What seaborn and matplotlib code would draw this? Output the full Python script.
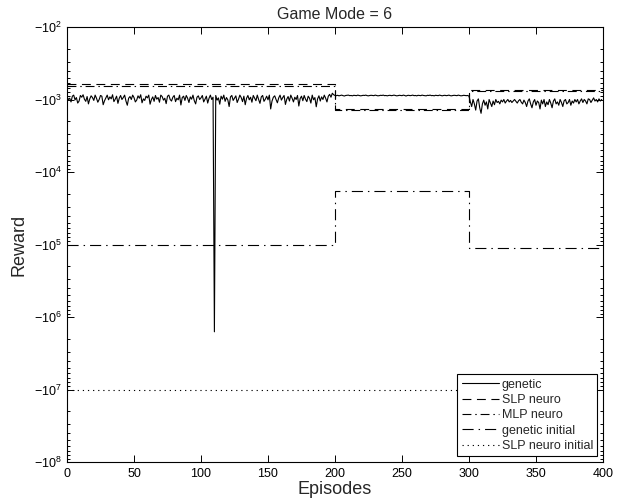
import numpy as np
import pandas as pd
import seaborn as sns
import matplotlib
matplotlib.use("Agg")
import matplotlib.pyplot as plt
from matplotlib.ticker import FixedLocator, FixedFormatter, LogLocator, NullFormatter

# ---- data -------------------------------------------------------------
episodes = list(range(400))

genetic = [
    # episodes 0-199
    -920, -1000, -960, -1080, -900, -870, -1010, -940, -1120, -1050, -880, -930, -860, -990, -1060, -910, -1150, -980, -890, -940,
    -1030, -870, -960, -1090, -1000, -880, -900, -1180, -1040, -950, -870, -1010, -920, -980, -860, -1070, -990, -900, -1130, -960,
    -880, -1000, -940, -870, -1050, -1200, -960, -910, -1000, -870, -940, -1080, -1020, -890, -960, -860, -1110, -980, -1030, -900,
    -950, -870, -1160, -1000, -920, -1060, -880, -990, -940, -1090, -870, -910, -1020, -960, -1140, -900, -870, -1000, -1050, -930,
    -880, -1070, -960, -1010, -870, -1190, -940, -900, -1030, -880, -960, -1100, -920, -990, -870, -1040, -1150, -930, -890, -1000,
    -950, -880, -1080, -990, -900, -1120, -960, -870, -1000, -930, -1600000, -880, -1020, -950, -1160, -900, -990, -870, -1060, -940,
    -1010, -1250, -920, -880, -1030, -960, -890, -1100, -990, -870, -940, -1070, -900, -1180, -960, -880, -1010, -930, -1090, -880,
    -960, -1040, -870, -1000, -1130, -920, -880, -1060, -990, -900, -1010, -870, -1350, -1050, -930, -890, -1000, -1110, -950, -870,
    -1020, -940, -880, -1170, -990, -910, -1050, -870, -960, -1080, -930, -1000, -880, -1230, -970, -900, -1040, -880, -990, -1070,
    -900, -960, -1120, -870, -1010, -940, -1260, -980, -890, -1050, -920, -1000, -870, -960, -1080, -900, -850, -930, -820, -860,
    # episodes 200-299
    -880, -885, -875, -890, -880, -870, -885, -895, -880, -875, -870, -885, -880, -890, -875, -880, -885, -870, -880, -890,
    -885, -875, -880, -870, -885, -890, -880, -875, -880, -885, -870, -880, -890, -885, -875, -880, -870, -885, -880, -890,
    -880, -875, -885, -880, -870, -880, -890, -885, -875, -880, -885, -870, -880, -895, -880, -875, -885, -880, -870, -885,
    -880, -890, -875, -880, -885, -870, -880, -885, -890, -875, -880, -870, -885, -880, -890, -875, -880, -885, -870, -880,
    -890, -880, -875, -885, -880, -870, -885, -890, -880, -875, -880, -885, -870, -880, -890, -885, -875, -880, -885, -880,
    # episodes 300-399
    -900, -1080, -1250, -1000, -1150, -1400, -1050, -980, -1300, -1550, -1150, -1020, -1200, -1080, -1350, -1000, -1120, -1250, -1050, -1180,
    -1000, -1100, -1060, -1150, -1020, -1080, -1000, -1120, -1050, -1000, -1080, -1030, -1100, -1050, -1000, -1060, -1120, -1040, -1000, -1090,
    -1150, -1020, -1100, -1250, -1050, -980, -1150, -1300, -1080, -1000, -1200, -1050, -1100, -1350, -1020, -1150, -1000, -1250, -1080, -1180,
    -1000, -1120, -1300, -1050, -980, -1150, -1080, -1200, -1000, -1100, -1250, -1040, -1000, -1150, -1100, -1000, -1200, -1050, -1120, -1000,
    -1080, -1000, -1150, -1050, -980, -1100, -1000, -1050, -1150, -980, -1000, -1100, -1020, -950, -1050, -1000, -1080, -980, -1050, -1000,
]

# piecewise-constant series: one level per game-mode segment
segment_edges = [0, 200, 300, 400]
slp_neuro = [-620, -1370, -740]
mlp_neuro = [-650, -1390, -760]
genetic_initial = [-1.0e5, -1.8e4, -1.1e5]
slp_neuro_initial = [-1.0e7, -1.0e7, -1.0e7]

x_ticks = [0, 50, 100, 150, 200, 250, 300, 350, 400]
y_exponents = [2, 3, 4, 5, 6, 7, 8]

# ---- styling ----------------------------------------------------------
sns.set_theme(style="white")
plt.rcParams["font.family"] = ["Liberation Sans", "DejaVu Sans"]
plt.rcParams["mathtext.fontset"] = "custom"
plt.rcParams["mathtext.rm"] = "Liberation Sans"
plt.rcParams["mathtext.it"] = "Liberation Sans:italic"
plt.rcParams["mathtext.bf"] = "Liberation Sans:bold"

fig = plt.figure(figsize=(6.19, 4.98), dpi=100)
ax = fig.add_axes([67 / 619, 1 - 462 / 498, (603 - 67) / 619, (462 - 27) / 498])

LW = 0.8


def seg_frame(levels):
    ys = [-v for v in levels] + [-levels[-1]]
    return pd.DataFrame({"episode": segment_edges, "magnitude": ys})


gen_df = pd.DataFrame({"episode": episodes, "magnitude": [-v for v in genetic]})

sns.lineplot(data=gen_df, x="episode", y="magnitude", ax=ax, color="black",
             linewidth=LW, label="genetic", estimator=None)
sns.lineplot(data=seg_frame(slp_neuro), x="episode", y="magnitude", ax=ax,
             color="black", linewidth=LW, label="SLP neuro", estimator=None,
             drawstyle="steps-post")
sns.lineplot(data=seg_frame(mlp_neuro), x="episode", y="magnitude", ax=ax,
             color="black", linewidth=LW, label="MLP neuro", estimator=None,
             drawstyle="steps-post")
sns.lineplot(data=seg_frame(genetic_initial), x="episode", y="magnitude", ax=ax,
             color="black", linewidth=LW, label="genetic initial", estimator=None,
             drawstyle="steps-post")
sns.lineplot(data=seg_frame(slp_neuro_initial), x="episode", y="magnitude", ax=ax,
             color="black", linewidth=LW, label="SLP neuro initial", estimator=None,
             drawstyle="steps-post")

lines = ax.get_lines()
lines[1].set_dashes((8, 5))
lines[2].set_dashes((8, 3.5, 1.3, 3.5))
lines[3].set_dashes((10, 4.5, 1.3, 4.5))
lines[4].set_dashes((1.1, 3.5))

ax.set_yscale("log")
ax.set_xlim(0, 400)
ax.set_ylim(1e8, 1e2)

ax.xaxis.set_major_locator(FixedLocator(x_ticks))
ax.set_xticklabels([str(t) for t in x_ticks])
ax.yaxis.set_major_locator(FixedLocator([10.0 ** e for e in y_exponents]))
ax.yaxis.set_major_formatter(FixedFormatter([r"$-10^{%d}$" % e for e in y_exponents]))
ax.yaxis.set_minor_locator(LogLocator(base=10, subs=np.arange(2, 10), numticks=20))
ax.yaxis.set_minor_formatter(NullFormatter())

ax.tick_params(axis="both", which="both", direction="in", top=True, right=True,
               bottom=True, left=True, colors="black", labelsize=9, width=0.7)
ax.tick_params(axis="both", which="major", length=5, pad=4)
ax.tick_params(axis="y", which="minor", length=2.5)

for s in ax.spines.values():
    s.set_color("black")
    s.set_linewidth(0.8)

ax.set_xlabel("Episodes", fontsize=13, labelpad=1)
ax.set_ylabel("Reward", fontsize=13, labelpad=4)
ax.set_title("Game Mode = 6", fontsize=11.5, pad=6)

leg = ax.legend(loc="lower right", fontsize=9, frameon=True, fancybox=False,
                handlelength=3.0, handletextpad=0.2, borderpad=0.35,
                labelspacing=0.27, borderaxespad=0.45)
leg.get_frame().set_edgecolor("black")
leg.get_frame().set_linewidth(0.8)
leg.get_frame().set_alpha(1)

fig.savefig("out.png", dpi=100, facecolor="white")
